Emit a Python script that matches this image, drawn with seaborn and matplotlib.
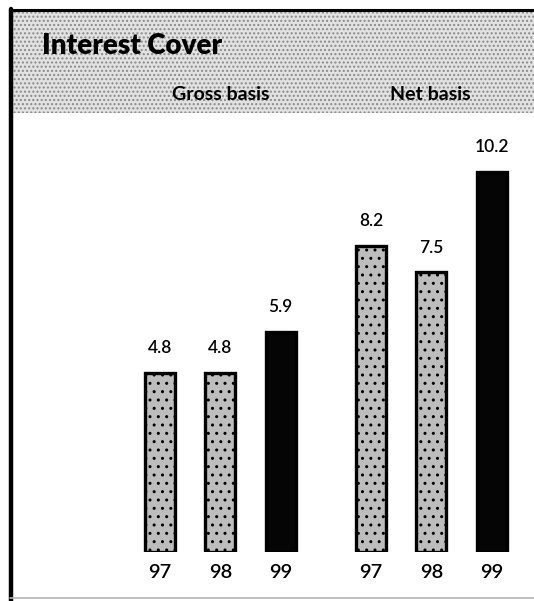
import matplotlib
matplotlib.use("Agg")
import matplotlib.pyplot as plt
from matplotlib.patches import Rectangle
from matplotlib.lines import Line2D
import seaborn as sns
import pandas as pd

# ---- data ----
title = "Interest Cover"
groups = ["Gross basis", "Net basis"]
years = ["97", "98", "99"]
gross_values = [4.8, 4.8, 5.9]
net_values = [8.2, 7.5, 10.2]

sns.set_theme(style="white")
plt.rcParams["font.family"] = ["Lato", "DejaVu Sans"]
plt.rcParams["hatch.linewidth"] = 1.0

W, H = 534, 601
fig = plt.figure(figsize=(W / 100, H / 100), dpi=100)
fig.patch.set_facecolor("white")

def fx(px):
    return px / W

def fy(py):
    return 1 - py / H

# header band (speckled grey)
band = Rectangle((fx(10), fy(113)), fx(524), 103 / H, transform=fig.transFigure,
                 facecolor="#e2e2e2", edgecolor="#8a8a8a", linewidth=0, hatch="....", zorder=0)
fig.patches.append(band)

# frame lines
fig.add_artist(Line2D([fx(11), fx(11)], [fy(9), fy(601)], transform=fig.transFigure,
                      color="black", linewidth=3.2))
fig.add_artist(Line2D([fx(10), fx(534)], [fy(10), fy(10)], transform=fig.transFigure,
                      color="black", linewidth=2.2))
fig.add_artist(Line2D([fx(10), fx(534)], [fy(598), fy(598)], transform=fig.transFigure,
                      color="#b5b5b5", linewidth=1.2))

# bars
positions = [0, 1, 2, 3.5, 4.5, 5.5]
df = pd.DataFrame({
    "pos": positions,
    "value": gross_values + net_values,
    "year": years + years,
    "basis": [groups[0]] * 3 + [groups[1]] * 3,
})
df["kind"] = ["old" if y != "99" else "new" for y in df["year"]]

ax = fig.add_axes([0, (H - 552) / H, 1, (552 - 120) / H])
ax.set_facecolor("none")
sns.barplot(data=df, x="pos", y="value", hue="kind", hue_order=["old", "new"],
            palette={"old": "#bdbdbd", "new": "#050505"}, native_scale=True,
            dodge=False, width=0.5, edgecolor="black", linewidth=2.4,
            legend=False, ax=ax)
for patch in ax.patches:
    if patch.get_facecolor()[0] > 0.5:
        patch.set_hatch("..")

for cont in ax.containers:
    ax.bar_label(cont, fmt="%.1f", padding=12, fontsize=12.5, color="black",
                 fontweight="semibold")

px_per_unit = 60.3
left = -160 / px_per_unit
ax.set_xlim(left, left + W / px_per_unit)
ax.set_ylim(0, 432 / 37.3)
ax.set_xticks(positions, labels=years + years)
ax.tick_params(axis="x", length=0, pad=9, labelsize=14.5, labelcolor="black")
for lab in ax.get_xticklabels():
    lab.set_fontweight("semibold")
ax.set_yticks([])
ax.set_xlabel("")
ax.set_ylabel("")
for s in ax.spines.values():
    s.set_visible(False)

# header texts
fig.text(fx(42), fy(54), title, fontsize=20, fontweight="heavy", color="black", va="baseline")
fig.text(fx(172), fy(100), groups[0], fontsize=14, fontweight="bold", color="black", va="baseline")
fig.text(fx(390), fy(100), groups[1], fontsize=14, fontweight="bold", color="black", va="baseline")

fig.savefig("out.png", dpi=100)
